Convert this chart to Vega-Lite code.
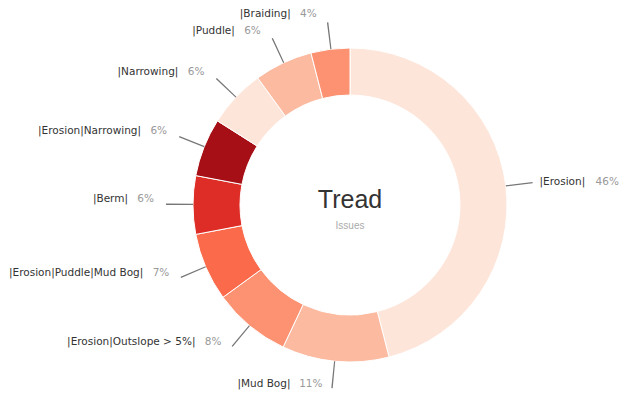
{
  "$schema": "https://vega.github.io/schema/vega-lite/v6.json",
  "width": 550,
  "height": 388,
  "padding": {"left": 75, "top": 11, "right": 0, "bottom": 0},
  "autosize": {"type": "none"},
  "background": "white",
  "config": {"view": {"stroke": null}},
  "data": {
    "values": [
      {"idx": 1, "label": "|Erosion|", "value": 46},
      {"idx": 2, "label": "|Mud Bog|", "value": 11},
      {"idx": 3, "label": "|Erosion|Outslope > 5%|", "value": 8},
      {"idx": 4, "label": "|Erosion|Puddle|Mud Bog|", "value": 7},
      {"idx": 5, "label": "|Berm|", "value": 6},
      {"idx": 6, "label": "|Erosion|Narrowing|", "value": 6},
      {"idx": 7, "label": "|Narrowing|", "value": 6},
      {"idx": 8, "label": "|Puddle|", "value": 6},
      {"idx": 9, "label": "|Braiding|", "value": 4}
    ]
  },
  "transform": [
    {"window": [{"op": "sum", "field": "value", "as": "cum"}], "sort": [{"field": "idx"}], "frame": [null, 0]},
    {"calculate": "datum.cum - datum.value / 2", "as": "mid"},
    {"calculate": "datum.mid + 0.12", "as": "mid2"},
    {"calculate": "datum.value + '%'", "as": "pct"}
  ],
  "layer": [
    {
      "mark": {"type": "arc", "radius": 157, "radius2": 110, "stroke": "white", "strokeWidth": 1},
      "encoding": {
        "theta": {"field": "value", "type": "quantitative", "stack": true, "scale": {"domain": [0, 100]}},
        "order": {"field": "idx", "type": "quantitative"},
        "color": {
          "field": "label", "type": "nominal", "legend": null,
          "scale": {
            "domain": ["|Erosion|", "|Mud Bog|", "|Erosion|Outslope > 5%|", "|Erosion|Puddle|Mud Bog|", "|Berm|", "|Erosion|Narrowing|", "|Narrowing|", "|Puddle|", "|Braiding|"],
            "range": ["#fee5d9", "#fcbba1", "#fc9272", "#fb6a4a", "#de2d26", "#a50f15", "#fee5d9", "#fcbba1", "#fc9272"]
          }
        }
      }
    },
    {
      "mark": {"type": "arc", "radius": 184, "radius2": 157, "fill": "#777777"},
      "encoding": {
        "theta": {"field": "mid", "type": "quantitative", "stack": null},
        "theta2": {"field": "mid2"}
      }
    },
    {
      "transform": [{"filter": "datum.mid > 50 && length(datum.pct) == 2"}],
      "mark": {"type": "text", "radius": 186, "align": "right", "baseline": "middle", "dx": -36, "dy": -6, "font": "DejaVu Sans", "fontSize": 10.5, "color": "#333333"},
      "encoding": {
        "theta": {"field": "mid", "type": "quantitative", "stack": null},
        "text": {"field": "label"}
      }
    },
    {
      "transform": [{"filter": "datum.mid > 50 && length(datum.pct) == 3"}],
      "mark": {"type": "text", "radius": 186, "align": "right", "baseline": "middle", "dx": -42, "dy": -6, "font": "DejaVu Sans", "fontSize": 10.5, "color": "#333333"},
      "encoding": {
        "theta": {"field": "mid", "type": "quantitative", "stack": null},
        "text": {"field": "label"}
      }
    },
    {
      "transform": [{"filter": "datum.mid > 50"}],
      "mark": {"type": "text", "radius": 186, "align": "right", "baseline": "middle", "dx": -10, "dy": -6, "font": "DejaVu Sans", "fontSize": 10.5, "color": "#999999"},
      "encoding": {
        "theta": {"field": "mid", "type": "quantitative", "stack": null},
        "text": {"field": "pct"}
      }
    },
    {
      "transform": [{"filter": "datum.mid <= 50"}],
      "mark": {"type": "text", "radius": 186, "align": "left", "baseline": "middle", "dx": 5, "dy": 0, "font": "DejaVu Sans", "fontSize": 10.5, "color": "#333333"},
      "encoding": {
        "theta": {"field": "mid", "type": "quantitative", "stack": null},
        "text": {"field": "label"}
      }
    },
    {
      "transform": [{"filter": "datum.mid <= 50"}],
      "mark": {"type": "text", "radius": 186, "align": "left", "baseline": "middle", "dx": 61, "dy": 0, "font": "DejaVu Sans", "fontSize": 10.5, "color": "#999999"},
      "encoding": {
        "theta": {"field": "mid", "type": "quantitative", "stack": null},
        "text": {"field": "pct"}
      }
    },
    {
      "data": {"values": [{"title": "Tread", "sub": "Issues"}]},
      "mark": {"type": "text", "align": "center", "baseline": "middle", "dy": -5, "font": "Liberation Sans", "fontSize": 25, "color": "#333333"},
      "encoding": {"text": {"field": "title"}}
    },
    {
      "data": {"values": [{"title": "Tread", "sub": "Issues"}]},
      "mark": {"type": "text", "align": "center", "baseline": "middle", "dy": 21, "font": "Liberation Sans", "fontSize": 10, "color": "#aaaaaa"},
      "encoding": {"text": {"field": "sub"}}
    }
  ]
}
